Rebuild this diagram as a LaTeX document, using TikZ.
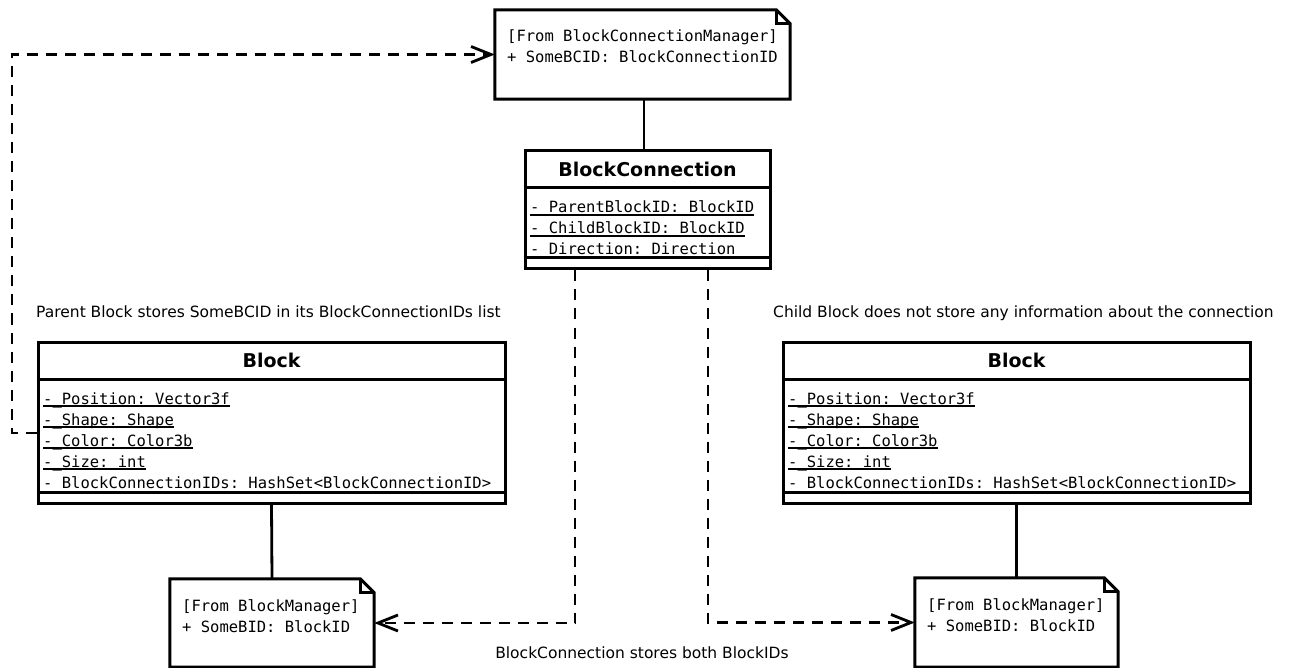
\documentclass[tikz,border=0pt]{standalone}
\usepackage{fontspec}
\setmainfont{DejaVu Sans}
\setmonofont{DejaVu Sans Mono}
\usetikzlibrary{arrows.meta}
\newcommand{\uln}[1]{\setbox0\hbox{#1}\rlap{\rule[-2.8pt]{\wd0}{1.4pt}}\box0}
\newcommand{\notefold}[1]{%
  \draw[boxline] (#1.north west) -- ([xshift=-14pt]#1.north east) -- ([yshift=-14pt]#1.north east) -- (#1.south east) -- (#1.south west) -- cycle;
  \draw[boxline] ([xshift=-14pt]#1.north east) |- ([yshift=-14pt]#1.north east);}
\tikzset{
  boxline/.style={line width=3pt, line join=miter},
  classbox/.style={draw, line width=3pt, inner sep=0pt, fill=white},
  noteanchor/.style={draw=none, inner sep=0pt},
  attr/.style={anchor=base west, inner sep=0pt, font=\ttfamily\fontsize{15.5}{19}\selectfont},
  ttl/.style={anchor=base, inner sep=0pt, font=\bfseries\fontsize{19}{23}\selectfont},
  lbl/.style={inner sep=0pt, font=\fontsize{15.5}{19}\selectfont},
  assoc/.style={line width=2.8pt},
  dep/.style={line width=2.8pt, dash pattern=on 11pt off 8pt, -{Straight Barb[length=20pt,width=16pt,line width=2.8pt]}}
}
\begin{document}
\begin{tikzpicture}[x=1pt,y=-1pt]
\useasboundingbox (0,0) rectangle (1293,668);

% top note
\node[noteanchor, minimum width=295pt, minimum height=89pt] (topnote) at (642.5,54.5) {};
\notefold{topnote}
\node[attr] (tn1) at (507,42) {[From BlockConnectionManager]};
\node[attr] (tn2) at (507,63) {+ SomeBCID: BlockConnectionID};

% BlockConnection class
\node[classbox, minimum width=245pt, minimum height=118pt] (bc) at (647.5,210) {};
\draw[boxline] (bc.west |- 0,188) -- (bc.east |- 0,188);
\draw[boxline] (bc.west |- 0,258) -- (bc.east |- 0,258);
\node[ttl] (bct) at (647.5,177) {BlockConnection};
\node[attr] (bc1) at (530,213) {\uln{-\_ParentBlockID: BlockID}};
\node[attr] (bc2) at (530,234) {\uln{-\_ChildBlockID: BlockID}};
\node[attr] (bc3) at (530,255) {- Direction: Direction};

% left Block
\node[classbox, minimum width=467pt, minimum height=161pt] (lblock) at (271.5,422.5) {};
\draw[boxline] (lblock.west |- 0,379) -- (lblock.east |- 0,379);
\draw[boxline] (lblock.west |- 0,492) -- (lblock.east |- 0,492);
\node[ttl] (lbt) at (271.5,367) {Block};
\node[attr] (lb1) at (43,404) {\uln{-\_Position: Vector3f}};
\node[attr] (lb2) at (43,425) {\uln{-\_Shape: Shape}};
\node[attr] (lb3) at (43,446) {\uln{-\_Color: Color3b}};
\node[attr] (lb4) at (43,467) {\uln{-\_Size: int}};
\node[attr] (lb5) at (43,488) {- BlockConnectionIDs: HashSet<BlockConnectionID>};

% right Block
\node[classbox, minimum width=467pt, minimum height=161pt] (rblock) at (1016.5,422.5) {};
\draw[boxline] (rblock.west |- 0,379) -- (rblock.east |- 0,379);
\draw[boxline] (rblock.west |- 0,492) -- (rblock.east |- 0,492);
\node[ttl] (rbt) at (1016.5,367) {Block};
\node[attr] (rb1) at (788,404) {\uln{-\_Position: Vector3f}};
\node[attr] (rb2) at (788,425) {\uln{-\_Shape: Shape}};
\node[attr] (rb3) at (788,446) {\uln{-\_Color: Color3b}};
\node[attr] (rb4) at (788,467) {\uln{-\_Size: int}};
\node[attr] (rb5) at (788,488) {- BlockConnectionIDs: HashSet<BlockConnectionID>};

% bottom notes
\node[noteanchor, minimum width=204pt, minimum height=88pt] (lnote) at (272,623) {};
\notefold{lnote}
\node[attr] (ln1) at (182,611) {[From BlockManager]};
\node[attr] (ln2) at (182,632) {+ SomeBID: BlockID};

\node[noteanchor, minimum width=203pt, minimum height=89pt] (rnote) at (1016.5,622.5) {};
\notefold{rnote}
\node[attr] (rn1) at (927,610) {[From BlockManager]};
\node[attr] (rn2) at (927,631) {+ SomeBID: BlockID};

% labels
\node[lbl, anchor=base west] (lab1) at (36,318) {Parent Block stores SomeBCID in its BlockConnectionIDs list};
\node[lbl, anchor=base west] (lab2) at (773,318) {Child Block does not store any information about the connection};
\node[lbl, anchor=base] (lab3) at (642,658) {BlockConnection stores both BlockIDs};

% solid associations
\draw[assoc] (topnote.south -| 644,0) -- (bc.north -| 644,0);
\draw[assoc] (lblock.south) -- (lnote.north);
\draw[assoc] (rblock.south) -- (rnote.north);

% dependencies
\coordinate (lstart) at ([yshift=-10.5pt]lblock.west);
\coordinate (lcorner) at (12,433);
\draw[dep] (lstart) -- (lcorner) |- (topnote.west);
\coordinate (bcl) at (bc.south -| 575,0);
\coordinate (bcr) at (bc.south -| 708,0);
\draw[dep] (bcl) |- (lnote.east);
\draw[dep] (bcr) |- (rnote.west);
\end{tikzpicture}
\end{document}
